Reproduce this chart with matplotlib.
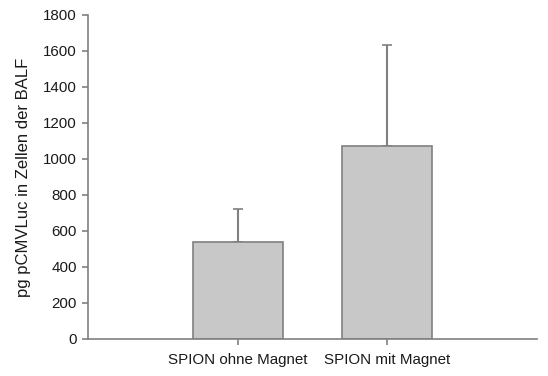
import matplotlib
matplotlib.use("Agg")
import matplotlib.pyplot as plt

categories = ["SPION ohne Magnet", "SPION mit Magnet"]
values = [540, 1075]
errors = [180, 558]
y_ticks = [0, 200, 400, 600, 800, 1000, 1200, 1400, 1600, 1800]

plt.rcParams['font.family'] = ['Liberation Sans', 'DejaVu Sans']
axis_col = "#808080"

fig = plt.figure(figsize=(5.48, 3.76), dpi=100)
ax = fig.add_axes([88/548, 1-339/376, (537-88)/548, (339-15)/376])

x = list(range(len(categories)))
ax.bar(x, values, width=0.6, color="#c8c8c8", edgecolor=axis_col, linewidth=1.2, zorder=2)
ax.errorbar(x, values, yerr=[[0]*len(errors), errors], fmt='none', ecolor=axis_col,
            elinewidth=1.5, capsize=3.6, capthick=1.2, zorder=1)

ax.set_xlim(-1, 2)
ax.set_ylim(0, 1800)
ax.set_yticks(y_ticks)
ax.set_xticks(x)
ax.set_xticklabels(categories, fontsize=10.9, color="#1a1a1a")
ax.tick_params(axis='y', labelsize=10.9, colors=axis_col, labelcolor="#1a1a1a", length=4, width=1.2, direction='out', pad=4)
ax.tick_params(axis='x', colors=axis_col, labelcolor="#1a1a1a", length=4, width=1.2, direction='out', pad=6)
for s in ['top', 'right']:
    ax.spines[s].set_visible(False)
for s in ['left', 'bottom']:
    ax.spines[s].set_color(axis_col)
    ax.spines[s].set_linewidth(1.2)
ax.set_ylabel("pg pCMVLuc in Zellen der BALF", fontsize=12, color="#1a1a1a", labelpad=9)

fig.savefig("out.png", dpi=100)
